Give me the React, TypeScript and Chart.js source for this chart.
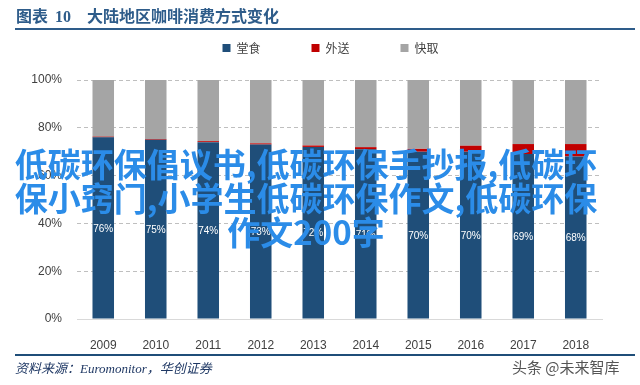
import React, { useEffect, useRef } from "react";
import { Chart, registerables } from "chart.js";

Chart.register(...registerables);

const years = ["2009", "2010", "2011", "2012", "2013", "2014", "2015", "2016", "2017", "2018"];
const dineIn = [76, 75, 74, 73, 72, 71, 70, 70, 69, 68];
const delivery = [0.3, 0.3, 0.4, 0.5, 0.6, 0.9, 1.2, 2.5, 4.2, 5.2];
const takeaway = [23.7, 24.7, 25.6, 26.5, 27.4, 28.1, 28.8, 27.5, 26.8, 26.8];
const seriesNames = ["堂食", "外送", "快取"];
const seriesColors = ["#1f4e79", "#c00000", "#a5a5a5"];
const yTickStep = 20;

const titleText = "大陆地区咖啡消费方式变化";
const sourceText = "资料来源：Euromonitor，华创证券";
const overlayLines = [
  "低碳环保倡议书,低碳环保手抄报,低碳环",
  "保小窍门,小学生低碳环保作文,低碳环保",
  "作文200字",
];

export default function App() {
  const ref = useRef<HTMLCanvasElement>(null);

  useEffect(() => {
    document.body.style.margin = "0";
    const P = 51;
    const legendTweak = {
      id: "legendTweak",
      beforeInit(chart: any) {
        const lg = chart.legend;
        if (lg) {
          const orig = lg.fit;
          lg.fit = function () {
            orig.call(this);
            this.height = 40;
          };
        }
      },
      afterLayout(chart: any) {
        const lg = chart.legend;
        if (lg) {
          lg.left = 21;
          lg.right = 640;
          lg.width = 619;
          lg.top = 48 - 6 - P;
          lg.bottom = 75;
          lg.height = lg.bottom - lg.top;
        }
      },
    };
    const barLabels = {
      id: "barLabels",
      afterDatasetsDraw(chart: any) {
        const ctx = chart.ctx;
        const meta = chart.getDatasetMeta(0);
        ctx.save();
        ctx.fillStyle = "#ffffff";
        ctx.font = "10px 'Liberation Sans', sans-serif";
        ctx.textAlign = "center";
        ctx.textBaseline = "middle";
        meta.data.forEach((el: any, i: number) => {
          const p = el.getProps(["x", "y", "base"], true);
          ctx.fillText(dineIn[i] + "%", p.x, (p.y + p.base) / 2 + 1);
        });
        ctx.restore();
      },
    };

    const chart = new Chart(ref.current!, {
      type: "bar",
      data: {
        labels: years,
        datasets: [
          { label: seriesNames[0], data: dineIn, backgroundColor: seriesColors[0] },
          { label: seriesNames[1], data: delivery, backgroundColor: seriesColors[1] },
          { label: seriesNames[2], data: takeaway, backgroundColor: seriesColors[2] },
        ],
      },
      options: {
        animation: false,
        responsive: false,
        devicePixelRatio: 1,
        datasets: { bar: { barPercentage: 0.41, categoryPercentage: 1 } },
        layout: { padding: { top: 40, left: 0, right: 38, bottom: 0 } },
        plugins: {
          legend: {
            position: "top",
            labels: {
              boxWidth: 8,
              boxHeight: 8,
              padding: P,
              color: "#404040",
              font: { size: 12, family: "'Noto Sans CJK SC', sans-serif" },
            },
          },
          tooltip: { enabled: false },
        },
        scales: {
          x: {
            stacked: true,
            grid: { display: false },
            border: { display: true, color: "#d9d9d9", width: 1 },
            ticks: {
              color: "#404040",
              padding: 11,
              font: { size: 12, family: "'Liberation Sans', sans-serif" },
            },
            afterFit(s: any) {
              s.height = 66;
            },
          },
          y: {
            stacked: true,
            min: 0,
            max: 100,
            ticks: {
              stepSize: yTickStep,
              padding: 15,
              color: "#404040",
              font: { size: 12, family: "'Liberation Sans', sans-serif" },
              callback: (v: any) => v + "%",
            },
            grid: {
              drawTicks: false,
              color: (c: any) => (c.tick && c.tick.value === 0 ? "rgba(0,0,0,0)" : "#bfbfbf"),
            },
            border: { display: false, dash: [4, 3] },
            afterFit(s: any) {
              s.width = 77;
            },
          },
        },
      },
      plugins: [legendTweak, barLabels],
    });
    return () => chart.destroy();
  }, []);

  const blue = "#2e5c8a";
  return (
    <div style={{ position: "relative", width: 640, height: 385, overflow: "hidden", background: "#fff" }}>
      <canvas ref={ref} width={640} height={385} style={{ position: "absolute", left: 0, top: 0, width: 640, height: 385 }} />
      <div
        style={{
          position: "absolute",
          left: 16,
          top: 5,
          color: blue,
          fontWeight: 700,
          fontSize: 16,
          lineHeight: "20px",
          whiteSpace: "nowrap",
          fontFamily: "'Noto Sans CJK SC', sans-serif",
        }}
      >
        <span>图表</span>
        <span style={{ fontFamily: "'Liberation Serif', serif", marginLeft: 7 }}>10</span>
        <span style={{ marginLeft: 16 }}>{titleText}</span>
      </div>
      <div style={{ position: "absolute", left: 15, top: 28, width: 620, height: 2, background: blue }} />
      <div style={{ position: "absolute", left: 15, top: 354, width: 620, height: 2, background: "#1f4e79" }} />
      <div
        style={{
          position: "absolute",
          left: 15,
          top: 360,
          color: "#1f3864",
          fontStyle: "italic",
          fontSize: 13,
          lineHeight: "18px",
          whiteSpace: "nowrap",
          fontFamily: "'Liberation Serif', 'Noto Sans CJK SC', serif",
        }}
      >
        {sourceText}
      </div>
      <div
        style={{
          position: "absolute",
          left: 512,
          top: 357,
          color: "#555",
          fontSize: 15,
          lineHeight: "20px",
          whiteSpace: "nowrap",
          fontFamily: "'Noto Sans CJK SC', sans-serif",
        }}
      >
        头条 @未来智库
      </div>
      <div
        style={{
          position: "absolute",
          left: -14,
          top: 146,
          width: 640,
          textAlign: "center",
          color: "#2b8ce8",
          fontSize: 33,
          fontWeight: 700,
          lineHeight: "34px",
          whiteSpace: "nowrap",
          fontFamily: "'Noto Sans CJK SC', sans-serif",
        }}
      >
        {overlayLines.map((l, i) => (
          <div key={i}>{l}</div>
        ))}
      </div>
    </div>
  );
}
